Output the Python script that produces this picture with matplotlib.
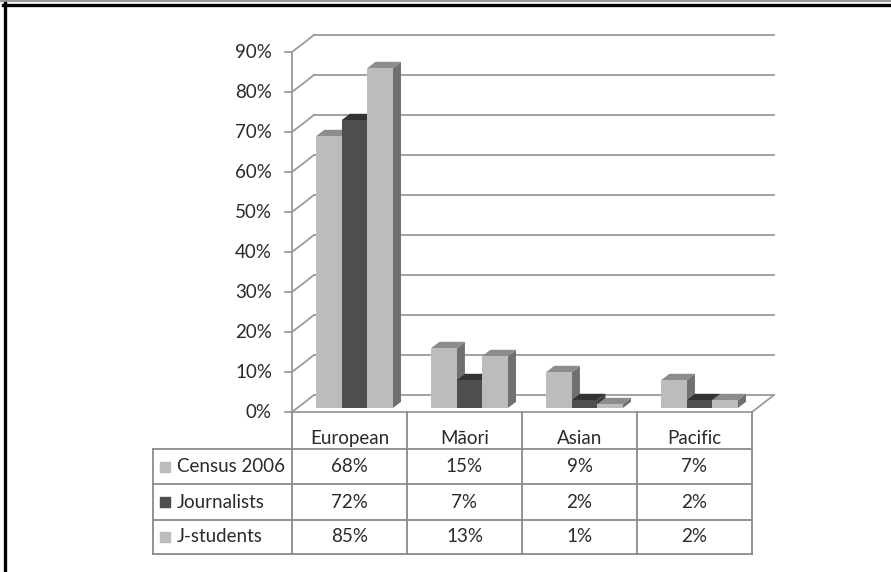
import matplotlib.pyplot as plt
from matplotlib.patches import Polygon
from matplotlib.lines import Line2D

# Data
categories = ['European', 'M\u0101ori', 'Asian', 'Pacific']
series_names = ['Census 2006', 'Journalists', 'J-students']
census = [68, 15, 9, 7]
journalists = [72, 7, 2, 2]
jstudents = [85, 13, 1, 2]
yticks = [0, 10, 20, 30, 40, 50, 60, 70, 80, 90]

values = [census, journalists, jstudents]
front_cols = ['#bcbcbc', '#4e4e4e', '#bcbcbc']
top_cols = ['#8c8c8c', '#333333', '#8c8c8c']
side_cols = ['#707070', '#3c3c3c', '#707070']
grid_col = '#9a9a9a'
txt_col = '#2a2a2a'

plt.rcParams['font.family'] = ['Lato', 'DejaVu Sans']

W, H = 891, 572
fig = plt.figure(figsize=(W / 100, H / 100), dpi=100)
fig.patch.set_facecolor('white')

# axes: x 0..4 -> px 292..752, y 0..90 -> px 412..52
ax = fig.add_axes([292 / W, 1 - 412 / H, 460 / W, 360 / H])
ax.set_xlim(0, 4)
ax.set_ylim(0, 90)
ax.axis('off')

DX = 22 / 115    # depth offset in category units
DY = 17 / 4      # depth offset in percent units
d0, d1 = 0.22, 0.60
w = 0.222
fs = 13.5

# walls and gridlines
for v in yticks:
    ax.plot([0, DX], [v, v + DY], color=grid_col, lw=1.3, clip_on=False, zorder=1)
    ax.plot([DX, 4 + DX], [v + DY, v + DY], color=grid_col, lw=1.3, clip_on=False, zorder=1)
    ax.plot([-7 / 115, 0], [v, v], color=grid_col, lw=1.3, clip_on=False, zorder=1)
    ax.text(-20 / 115, v, f'{v}%', ha='right', va='center', fontsize=fs,
            color=txt_col)
ax.plot([0, 0], [0, 90], color=grid_col, lw=1.3, clip_on=False, zorder=1)
ax.plot([0, 4], [0, 0], color=grid_col, lw=1.3, clip_on=False, zorder=1)
ax.plot([4, 4 + DX], [0, DY], color=grid_col, lw=1.3, clip_on=False, zorder=1)

# 3D bars
z = 3
for i in range(len(categories)):
    for k in range(len(values)):
        v = values[k][i]
        x0 = i + 0.5 - 1.5 * w + k * w + d0 * DX
        y0 = d0 * DY
        x1 = x0 + w
        top = y0 + v
        ddx = (d1 - d0) * DX
        ddy = (d1 - d0) * DY
        side = Polygon([(x1, y0), (x1 + ddx, y0 + ddy), (x1 + ddx, top + ddy), (x1, top)],
                       closed=True, facecolor=side_cols[k], edgecolor='none',
                       clip_on=False, zorder=z)
        ax.add_patch(side)
        topf = Polygon([(x0, top), (x1, top), (x1 + ddx, top + ddy), (x0 + ddx, top + ddy)],
                       closed=True, facecolor=top_cols[k], edgecolor='none',
                       clip_on=False, zorder=z)
        ax.add_patch(topf)
        ax.bar(x0, v, width=w, bottom=y0, align='edge', color=front_cols[k],
               edgecolor='none', clip_on=False, zorder=z + 0.5)
        z += 1

# data table
left = -139 / 115
rows_y = [0, -9.25, -18, -27, -35.5]
tcol = '#8a8a8a'
for xc in range(5):
    ax.plot([xc, xc], [0, rows_y[-1]], color=tcol, lw=1.3, clip_on=False, zorder=2)
ax.plot([left, left], [rows_y[1], rows_y[-1]], color=tcol, lw=1.3, clip_on=False, zorder=2)
for yr in rows_y[1:]:
    ax.plot([left, 4], [yr, yr], color=tcol, lw=1.3, clip_on=False, zorder=2)

for i, c in enumerate(categories):
    ax.text(i + 0.5, -6.6, c, ha='center', va='center', fontsize=fs, color=txt_col)

for k, name in enumerate(series_names):
    yc = (rows_y[k + 1] + rows_y[k + 2]) / 2
    ax.scatter([left + 12 / 115], [yc], marker='s', s=55, color=front_cols[k],
               clip_on=False, zorder=3)
    ax.text(left + 24 / 115, yc, name, ha='left', va='center', fontsize=fs, color=txt_col)
    for i in range(len(categories)):
        ax.text(i + 0.5, yc, f'{values[k][i]}%', ha='center', va='center',
                fontsize=fs, color=txt_col)

# outer frame
fig.add_artist(Line2D([0, 1], [1 - 1 / H, 1 - 1 / H], color='#999999', lw=1.5))
fig.add_artist(Line2D([3 / W, 1], [1 - 4.5 / H, 1 - 4.5 / H], color='black', lw=2.4))
fig.add_artist(Line2D([4.5 / W, 4.5 / W], [0, 1 - 3 / H], color='black', lw=2.4))

fig.savefig('out.png', dpi=100)
plt.close(fig)
